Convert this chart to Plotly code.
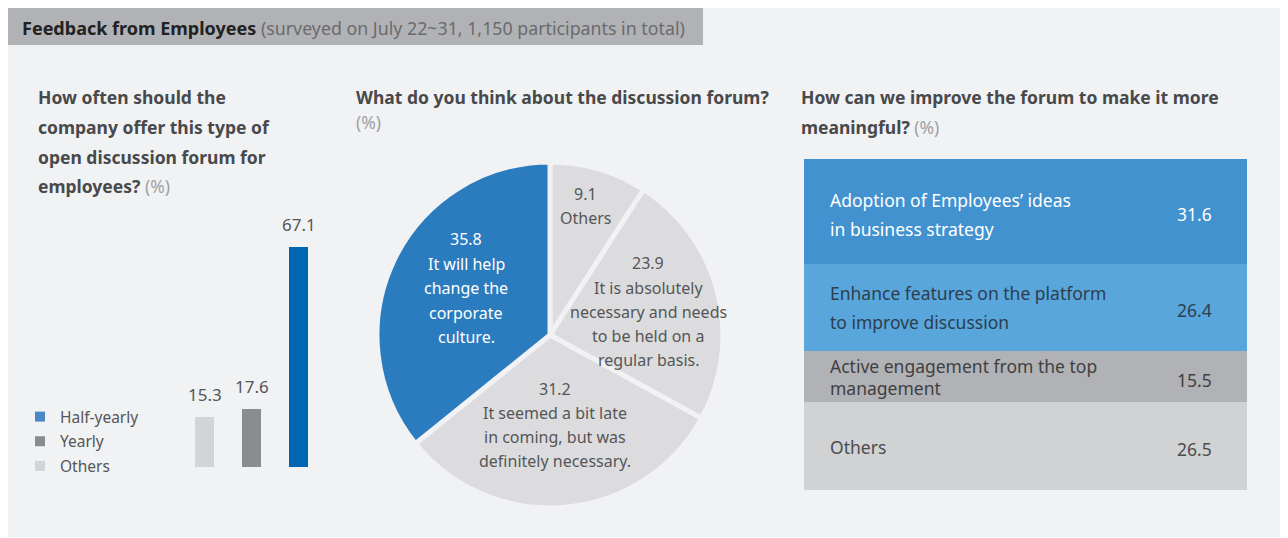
import plotly.graph_objects as go

# ---------------- data ----------------
freq_categories = ["Others", "Yearly", "Half-yearly"]
freq_values = [15.3, 17.6, 67.1]
legend_order = ["Half-yearly", "Yearly", "Others"]

pie_labels = ["Others", "It is absolutely necessary and needs to be held on a regular basis.",
              "It seemed a bit late in coming, but was definitely necessary.",
              "It will help change the corporate culture."]
pie_values = [9.1, 23.9, 31.2, 35.8]

improve_labels = [["Adoption of Employees\u2019 ideas", "in business strategy"],
                  ["Enhance features on the platform", "to improve discussion"],
                  ["Active engagement from the top", "management"],
                  ["Others"]]
improve_values = [31.6, 26.4, 15.5, 26.5]

# ---------------- styling ----------------
OFF = 8  # page body margin
W, H = 1280, 530
FONT = "Noto Sans"
BG = "#f1f2f4"
TXT = "#555658"


def px(x):
    return max(0.0, (x - OFF) / W)


def py(y):
    return min(1.0, 1 - (y - OFF) / H)


bar_colors = {"Half-yearly": "#0066b3", "Yearly": "#8b8c8f", "Others": "#d3d4d6"}
legend_colors = {"Half-yearly": "#4a86c8", "Yearly": "#8b8c8f", "Others": "#d3d4d6"}
pie_colors = ["#dcdcde", "#dcdcde", "#dcdcde", "#2b7bbf"]
row_colors = ["#4192cf", "#58a6db", "#b1b2b5", "#d1d2d4"]
row_text_colors = ["#ffffff", "#2d3e50", "#3f4042", "#4a4b4d"]
row_line_offsets = [[-11.5, 17.5], [-14.5, 14.5], [-11, 11], [1]]

fig = go.Figure()

# ---- left: bar chart ----
fig.add_trace(go.Bar(
    x=freq_categories, y=freq_values, xaxis="x", yaxis="y",
    width=[19 / 47] * len(freq_values),
    marker=dict(color=[bar_colors[c] for c in freq_categories], line=dict(width=0)),
    showlegend=False, hoverinfo="x+y",
))
for name in legend_order:
    fig.add_trace(go.Scatter(
        x=[None], y=[None], mode="markers", name=name, xaxis="x", yaxis="y",
        marker=dict(symbol="square", size=10, color=legend_colors[name]),
        legendgroup=name, showlegend=True,
    ))

annotations = []
for c, v in zip(freq_categories, freq_values):
    annotations.append(dict(x=c, y=v, xref="x", yref="y", text=f"{v}", showarrow=False,
                            yanchor="bottom", yshift=9,
                            font=dict(family=FONT, size=17, color=TXT)))

# ---- middle: pie ----
fig.add_trace(go.Pie(
    labels=pie_labels, values=pie_values, sort=False, direction="clockwise", rotation=0,
    marker=dict(colors=pie_colors, line=dict(color=BG, width=5)),
    textinfo="none", showlegend=False, hoverinfo="label+value",
    domain=dict(x=[px(377), px(723)], y=[py(508), py(162)]),
))

pie_text_blocks = [
    (["9.1", "Others"], 585, [194, 218], TXT),
    (["23.9", "It is absolutely", "necessary and needs", "to be held on a", "regular basis."],
     648, [263, 288, 312, 336, 360], TXT),
    (["31.2", "It seemed a bit late", "in coming, but was", "definitely necessary."],
     555, [389, 413, 437, 461], TXT),
    (["35.8", "It will help", "change the", "corporate", "culture."],
     466, [239, 264, 288, 313, 337], "#ffffff"),
]
for lines, cx, ys, col in pie_text_blocks:
    for t, yy in zip(lines, ys):
        annotations.append(dict(x=px(cx), y=py(yy), xref="paper", yref="paper", text=t,
                                showarrow=False, xanchor="center", yanchor="middle",
                                font=dict(family=FONT, size=16, color=col)))

# ---- right: stacked "table" ----
for i, (lab, v) in enumerate(zip(improve_labels, improve_values)):
    fig.add_trace(go.Bar(
        x=[0], y=[v], width=[1], xaxis="x2", yaxis="y2",
        marker=dict(color=row_colors[i], line=dict(width=0)),
        name=" ".join(lab), showlegend=False, hoverinfo="name+y",
    ))
cum = 0
for i, (lab, v) in enumerate(zip(improve_labels, improve_values)):
    mid = cum + v / 2
    cum += v
    for t, off in zip(lab, row_line_offsets[i]):
        annotations.append(dict(x=px(828), y=mid, xref="paper", yref="y2", text=t,
                                showarrow=False, xanchor="left", yanchor="middle", yshift=-off,
                                font=dict(family=FONT, size=17.5, color=row_text_colors[i])))
    annotations.append(dict(x=px(1214), y=mid, xref="paper", yref="y2", text=f"{v}",
                            showarrow=False, xanchor="right", yanchor="middle", yshift=-3,
                            font=dict(family=FONT, size=17.5, color=row_text_colors[i])))

# ---- titles ----
annotations.append(dict(
    x=px(20), y=py(28), xref="paper", yref="paper", xanchor="left", yanchor="middle",
    showarrow=False,
    text="<b>Feedback from Employees</b> <span style='font-size:17.8px;color:#6a6b6d'>"
         "(surveyed on July 22~31, 1,150 participants in total)</span>",
    font=dict(family=FONT, size=18, color="#222222"),
))

Q = "#48494b"
PCT = "<span style='font-weight:normal;color:#a0a1a3'>(%)</span>"
q_lines = [
    (36, 97, "<b>How often should the</b>"),
    (36, 127, "<b>company offer this type of</b>"),
    (36, 157, "<b>open discussion forum for</b>"),
    (36, 186, "<b>employees?</b> " + PCT),
    (354, 97, "<b>What do you think about the discussion forum?</b>"),
    (354, 122, PCT),
    (799, 97, "<b>How can we improve the forum to make it more</b>"),
    (799, 127, "<b>meaningful?</b> " + PCT),
]
for x, y, t in q_lines:
    annotations.append(dict(x=px(x), y=py(y), xref="paper", yref="paper", text=t,
                            showarrow=False, xanchor="left", yanchor="middle",
                            font=dict(family=FONT, size=17.5, color=Q)))

shapes = [
    dict(type="rect", xref="paper", yref="paper", x0=px(7), x1=1, y0=py(537), y1=py(7),
         fillcolor=BG, line=dict(width=0), layer="below"),
    dict(type="rect", xref="paper", yref="paper", x0=px(7), x1=px(703), y0=py(45), y1=py(7),
         fillcolor="#b1b2b5", line=dict(width=0), layer="below"),
]

fig.update_layout(
    width=W, height=H,
    margin=dict(l=0, r=0, t=0, b=0),
    paper_bgcolor="#ffffff", plot_bgcolor="rgba(0,0,0,0)",
    barmode="stack",
    font=dict(family=FONT, color=TXT),
    xaxis=dict(domain=[px(181), px(322)], visible=False, fixedrange=True,
               categoryorder="array", categoryarray=freq_categories),
    yaxis=dict(domain=[py(467), py(167)], range=[0, 300 / 3.28], visible=False, fixedrange=True),
    xaxis2=dict(domain=[px(804), px(1247)], range=[-0.5, 0.5], visible=False, fixedrange=True),
    yaxis2=dict(domain=[py(490), py(159)], range=[100, 0], visible=False, fixedrange=True),
    legend=dict(x=px(20), y=py(400), xanchor="left", yanchor="top",
                bgcolor="rgba(0,0,0,0)", font=dict(family=FONT, size=15.5, color=TXT),
                traceorder="grouped", tracegroupgap=1.5),
    annotations=annotations,
    shapes=shapes,
)

fig.write_html("out.html")
